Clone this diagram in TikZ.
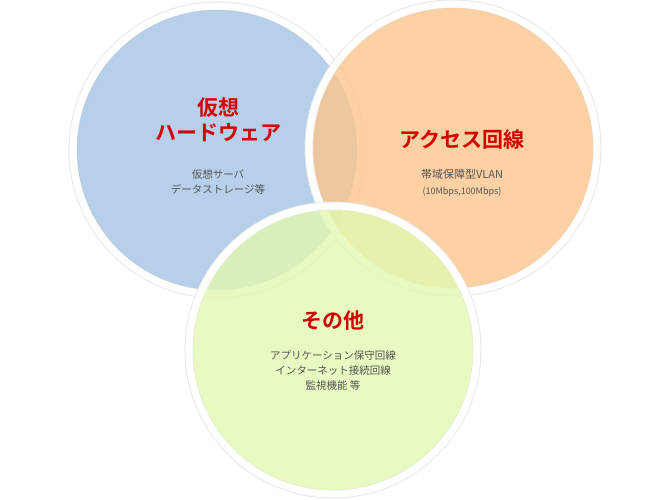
\documentclass[tikz,border=0pt]{standalone}
\usepackage{fontspec}
\newfontfamily\jp{Noto Sans CJK JP}
\newfontfamily\jpb{Noto Sans CJK JP Bold}
\definecolor{cblue}{HTML}{A4C2E3}
\definecolor{corange}{HTML}{FDC58A}
\definecolor{cgreen}{HTML}{E2F9B0}
\definecolor{ttl}{HTML}{D40000}
\definecolor{sub}{HTML}{555555}
\begin{document}
\begin{tikzpicture}[x=1pt,y=-1pt,
 ring/.style={draw=gray!18,line width=9pt},
 ringw/.style={draw=white,line width=7pt},
 title/.style={font=\jpb\fontsize{21}{25}\selectfont,text=ttl,align=center},
 subt/.style={font=\jp\fontsize{10.5}{15}\selectfont,text=sub,align=center}]
\useasboundingbox (0,0) rectangle (670,500);
\fill[white] (0,0) rectangle (670,500);
\foreach \cx/\cy/\col in {217/150/cblue,453/148/corange,333/350/cgreen}{
 \path[ring] (\cx,\cy) circle (144);
 \path[ringw] (\cx,\cy) circle (144);
 \fill[\col,opacity=0.78] (\cx,\cy) circle (140);
}
\node[title] (t1) at (218,120) {仮想\\ハードウェア};
\node[subt] (s1) at (218,182) {仮想サーバ\\データストレージ等};
\node[title] (t2) at (462,140) {アクセス回線};
\node[subt,font=\jp\fontsize{11}{15}\selectfont] (s2) at (462,174) {帯域保障型VLAN};
\node[subt,font=\jp\fontsize{9}{12}\selectfont] (s3) at (462,192) {(10Mbps,100Mbps)};
\node[title] (t3) at (333,321) {その他};
\node[subt] (s4) at (333,371) {アプリケーション保守回線\\インターネット接続回線\\監視機能 等};
\end{tikzpicture}
\end{document}
